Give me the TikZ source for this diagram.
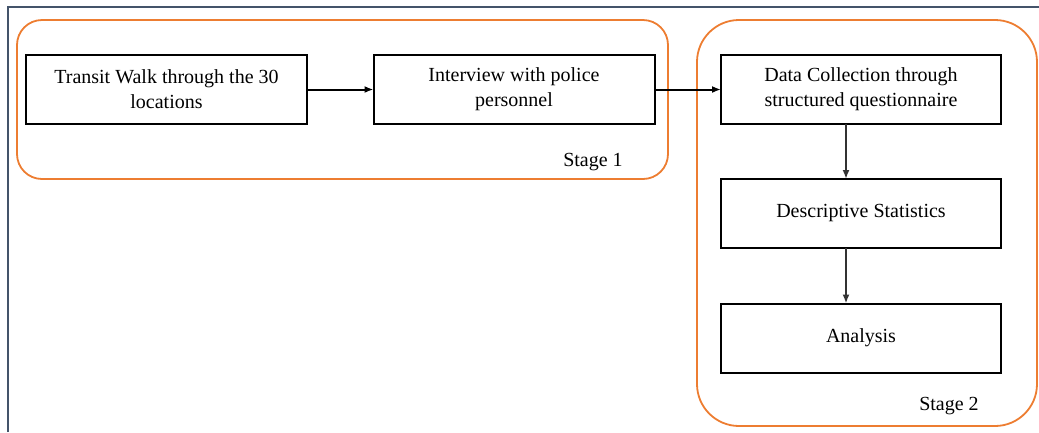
\documentclass[tikz,border=0pt]{standalone}
\usepackage{fontspec}
\setmainfont{Liberation Serif}
\newfontfamily\boxfont{Liberation Serif}
\usetikzlibrary{arrows.meta}
\definecolor{stageorange}{HTML}{ED7D31}
\definecolor{framegray}{HTML}{44546A}
\begin{document}
\begin{tikzpicture}[x=1pt,y=-1pt,inner sep=0pt,outer sep=0pt,
stepbox/.style={draw,rectangle,line width=2pt,minimum width=281pt,minimum height=69pt,align=center,font=\boxfont\fontsize{20}{25}\selectfont},
stagebox/.style={draw=stageorange,line width=1.8pt},
flow/.style={-{Latex[length=9pt,width=7pt]},line width=2pt}]
\useasboundingbox (0,0) rectangle (1039,432);
\draw[framegray,line width=2pt] (8,432) -- (8,7) -- (1039,7);
% stages
\draw[stagebox,rounded corners=25pt] (17,20) rectangle (668,179);
\draw[stagebox,rounded corners=42pt] (697,20) rectangle (1037,426);
\draw (593,162) node[font=\boxfont\fontsize{20}{22}\selectfont] (stage1) {Stage 1};
\draw (949,406) node[font=\boxfont\fontsize{20}{22}\selectfont] (stage2) {Stage 2};
% steps
\draw (166.5,89.5) node[stepbox] (walk) {Transit Walk through the 30\\locations};
\draw (514,89.5) node[stepbox] (police) {Interview with police\\personnel};
\draw (861,89.5) node[stepbox,minimum width=280pt] (data) {Data Collection through\\structured questionnaire};
\draw (861,213.5) node[stepbox,minimum width=280pt] (desc) {Descriptive Statistics};
\draw (861,338) node[stepbox,minimum width=280pt] (anal) {Analysis};
\draw[flow] (walk) -- (police);
\draw[flow] (police) -- (data);
\draw[flow,black!80] ([xshift=-15]data.south) -- ([xshift=-15]desc.north);
\draw[flow,black!80] ([xshift=-15]desc.south) -- ([xshift=-15]anal.north);
\end{tikzpicture}
\end{document}
